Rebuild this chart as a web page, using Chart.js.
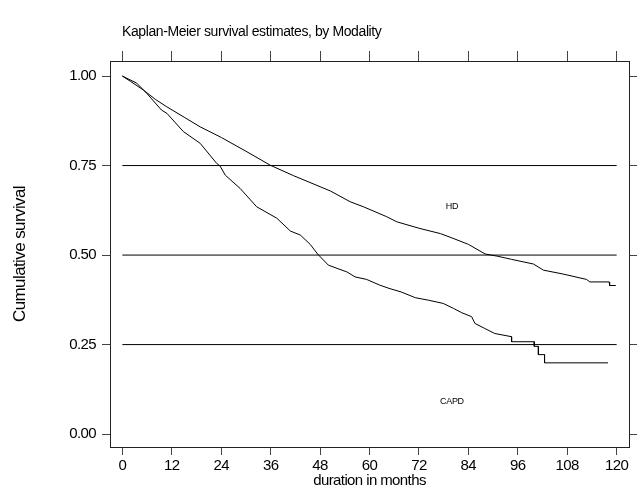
<!DOCTYPE html>
<html>
<head>
<meta charset="utf-8">
<script src="https://cdn.jsdelivr.net/npm/chart.js@4.4.1/dist/chart.umd.min.js"></script>
<style>
html,body{margin:0;padding:0;background:#fff;}
#wrap{position:relative;width:637px;height:488px;}
</style>
</head>
<body>
<div id="wrap"><canvas id="c" width="637" height="488"></canvas></div>
<script>
// ---- text ----
const subtitleText = 'Kaplan-Meier survival estimates, by Modality';
const xTitleText = 'duration in months';
const yTitleText = 'Cumulative survival';

// ---- ticks ----
const xTicks = [0, 12, 24, 36, 48, 60, 72, 84, 96, 108, 120];
const yTicks = [0, 0.25, 0.5, 0.75, 1];

// ---- reference lines ----
const refLevels = [0.25, 0.5, 0.75];
const refStart = 0;
const refEnd = 120;

// ---- series: HD ----
const hdMonths = [0, 2, 5.1, 8, 10.8, 15, 18.9, 24.1, 30, 35.9, 41.5, 48, 50.5, 55.3, 58.5, 64.2, 66.6, 72, 77.2, 80, 84, 88.1, 91, 94.5, 99.8, 102.2, 107, 112.7, 113.5, 118.2, 118.3, 119.8];
const hdSurv   = [1.0, 0.985, 0.961, 0.935, 0.914, 0.885, 0.858, 0.828, 0.79, 0.751, 0.722, 0.691, 0.679, 0.649, 0.635, 0.607, 0.593, 0.575, 0.56, 0.548, 0.53, 0.503, 0.497, 0.488, 0.475, 0.458, 0.447, 0.432, 0.425, 0.425, 0.415, 0.415];

// ---- series: CAPD ----
const capdMonths = [0, 3.5, 5.9, 9.5, 10.8, 14.8, 18.9, 22.9, 23.7, 25, 28.6, 32.6, 37.5, 40.8, 43.2, 45.6, 47.4, 50, 52.1, 54.5, 56.5, 59.3, 62.5, 65, 67.7, 71.1, 74.3, 77.9, 80.4, 82.4, 84.8, 85.6, 88, 90.4, 94.5, 94.5, 100, 100, 101, 101, 102.5, 102.5, 117.9];
const capdSurv   = [1.0, 0.98, 0.952, 0.905, 0.896, 0.845, 0.812, 0.756, 0.749, 0.723, 0.686, 0.635, 0.603, 0.567, 0.556, 0.53, 0.503, 0.472, 0.463, 0.453, 0.439, 0.432, 0.416, 0.406, 0.397, 0.381, 0.374, 0.365, 0.351, 0.339, 0.328, 0.309, 0.295, 0.281, 0.272, 0.258, 0.258, 0.245, 0.245, 0.222, 0.222, 0.199, 0.199];

// ---- in-plot labels ----
const curveLabels = ['HD', 'CAPD'];
const curveLabelX = [80, 80];
const curveLabelY = [0.635, 0.092];

const FONT = '"Liberation Sans", Arial, Helvetica, sans-serif';
Chart.defaults.font.family = FONT;
Chart.defaults.color = '#000';

const toPts = (xs, ys) => xs.map((x, i) => ({x: x, y: ys[i]}));

const datasets = [];
refLevels.forEach(lv => {
  datasets.push({
    data: [{x: refStart, y: lv}, {x: refEnd, y: lv}],
    borderColor: '#000', borderWidth: 1, pointRadius: 0, tension: 0, fill: false
  });
});
datasets.push({data: toPts(hdMonths, hdSurv), borderColor: '#000', borderWidth: 1, pointRadius: 0, tension: 0, fill: false});
datasets.push({data: toPts(capdMonths, capdSurv), borderColor: '#000', borderWidth: 1, pointRadius: 0, tension: 0, fill: false});

const spacingPlugin = {
  id: 'spacing',
  beforeDraw(chart) { chart.ctx.letterSpacing = '-0.6px'; }
};

const textPlugin = {
  id: 'texts',
  afterDraw(chart) {
    const ctx = chart.ctx;
    const xs = chart.scales.x, ys = chart.scales.y;
    ctx.save();
    ctx.fillStyle = '#000';
    ctx.textBaseline = 'middle';
    ctx.textAlign = 'left';
    ctx.letterSpacing = '-0.4px';
    ctx.font = '14px ' + FONT;
    ctx.fillText(subtitleText, 122, 32);
    ctx.font = '9px ' + FONT;
    ctx.textAlign = 'center';
    ctx.letterSpacing = '-0.3px';
    curveLabels.forEach((t, i) => {
      ctx.fillText(t, xs.getPixelForValue(curveLabelX[i]), ys.getPixelForValue(curveLabelY[i]));
    });
    ctx.restore();
  }
};

const setXTicks = s => { s.ticks = xTicks.map(v => ({value: v})); };
const setYTicks = s => { s.ticks = yTicks.map(v => ({value: v})); };

new Chart(document.getElementById('c'), {
  type: 'line',
  data: {datasets: datasets},
  options: {
    responsive: false,
    animation: false,
    events: [],
    layout: {padding: 0},
    plugins: {legend: {display: false}, tooltip: {enabled: false}, title: {display: false}},
    scales: {
      x: {
        type: 'linear', position: 'bottom', min: -3, max: 123,
        afterBuildTicks: setXTicks,
        afterFit: s => { s.height = 41; },
        grid: {drawOnChartArea: false, drawTicks: true, tickLength: 8, color: '#444', lineWidth: 1},
        border: {display: true, color: '#222', width: 1},
        ticks: {padding: 2, color: '#000', font: {size: 15}, maxRotation: 0, autoSkip: false, callback: v => String(v)},
        title: {display: true, text: xTitleText, color: '#000', font: {size: 15, lineHeight: 1.0}, padding: {top: 0, bottom: 0}}
      },
      x2: {
        type: 'linear', position: 'top', min: -3, max: 123,
        afterBuildTicks: setXTicks,
        afterFit: s => { s.height = 61; },
        grid: {drawOnChartArea: false, drawTicks: true, tickLength: 10, color: '#444', lineWidth: 1},
        border: {display: true, color: '#222', width: 1},
        ticks: {display: false}
      },
      y: {
        type: 'linear', position: 'left', min: -0.036, max: 1.042,
        afterBuildTicks: setYTicks,
        afterFit: s => { s.width = 110; },
        grid: {drawOnChartArea: false, drawTicks: true, tickLength: 8, color: '#444', lineWidth: 1},
        border: {display: true, color: '#222', width: 1},
        ticks: {padding: 6, color: '#000', font: {size: 15}, callback: v => Number(v).toFixed(2)},
        title: {display: true, text: yTitleText, color: '#000', font: {size: 17, lineHeight: 1.2}, padding: {top: 10, bottom: 0}}
      },
      y2: {
        type: 'linear', position: 'right', min: -0.036, max: 1.042,
        afterBuildTicks: setYTicks,
        afterFit: s => { s.width = 8; },
        grid: {drawOnChartArea: false, drawTicks: true, tickLength: 8, color: '#444', lineWidth: 1},
        border: {display: true, color: '#222', width: 1},
        ticks: {display: false}
      }
    }
  },
  plugins: [spacingPlugin, textPlugin]
});
</script>
</body>
</html>
